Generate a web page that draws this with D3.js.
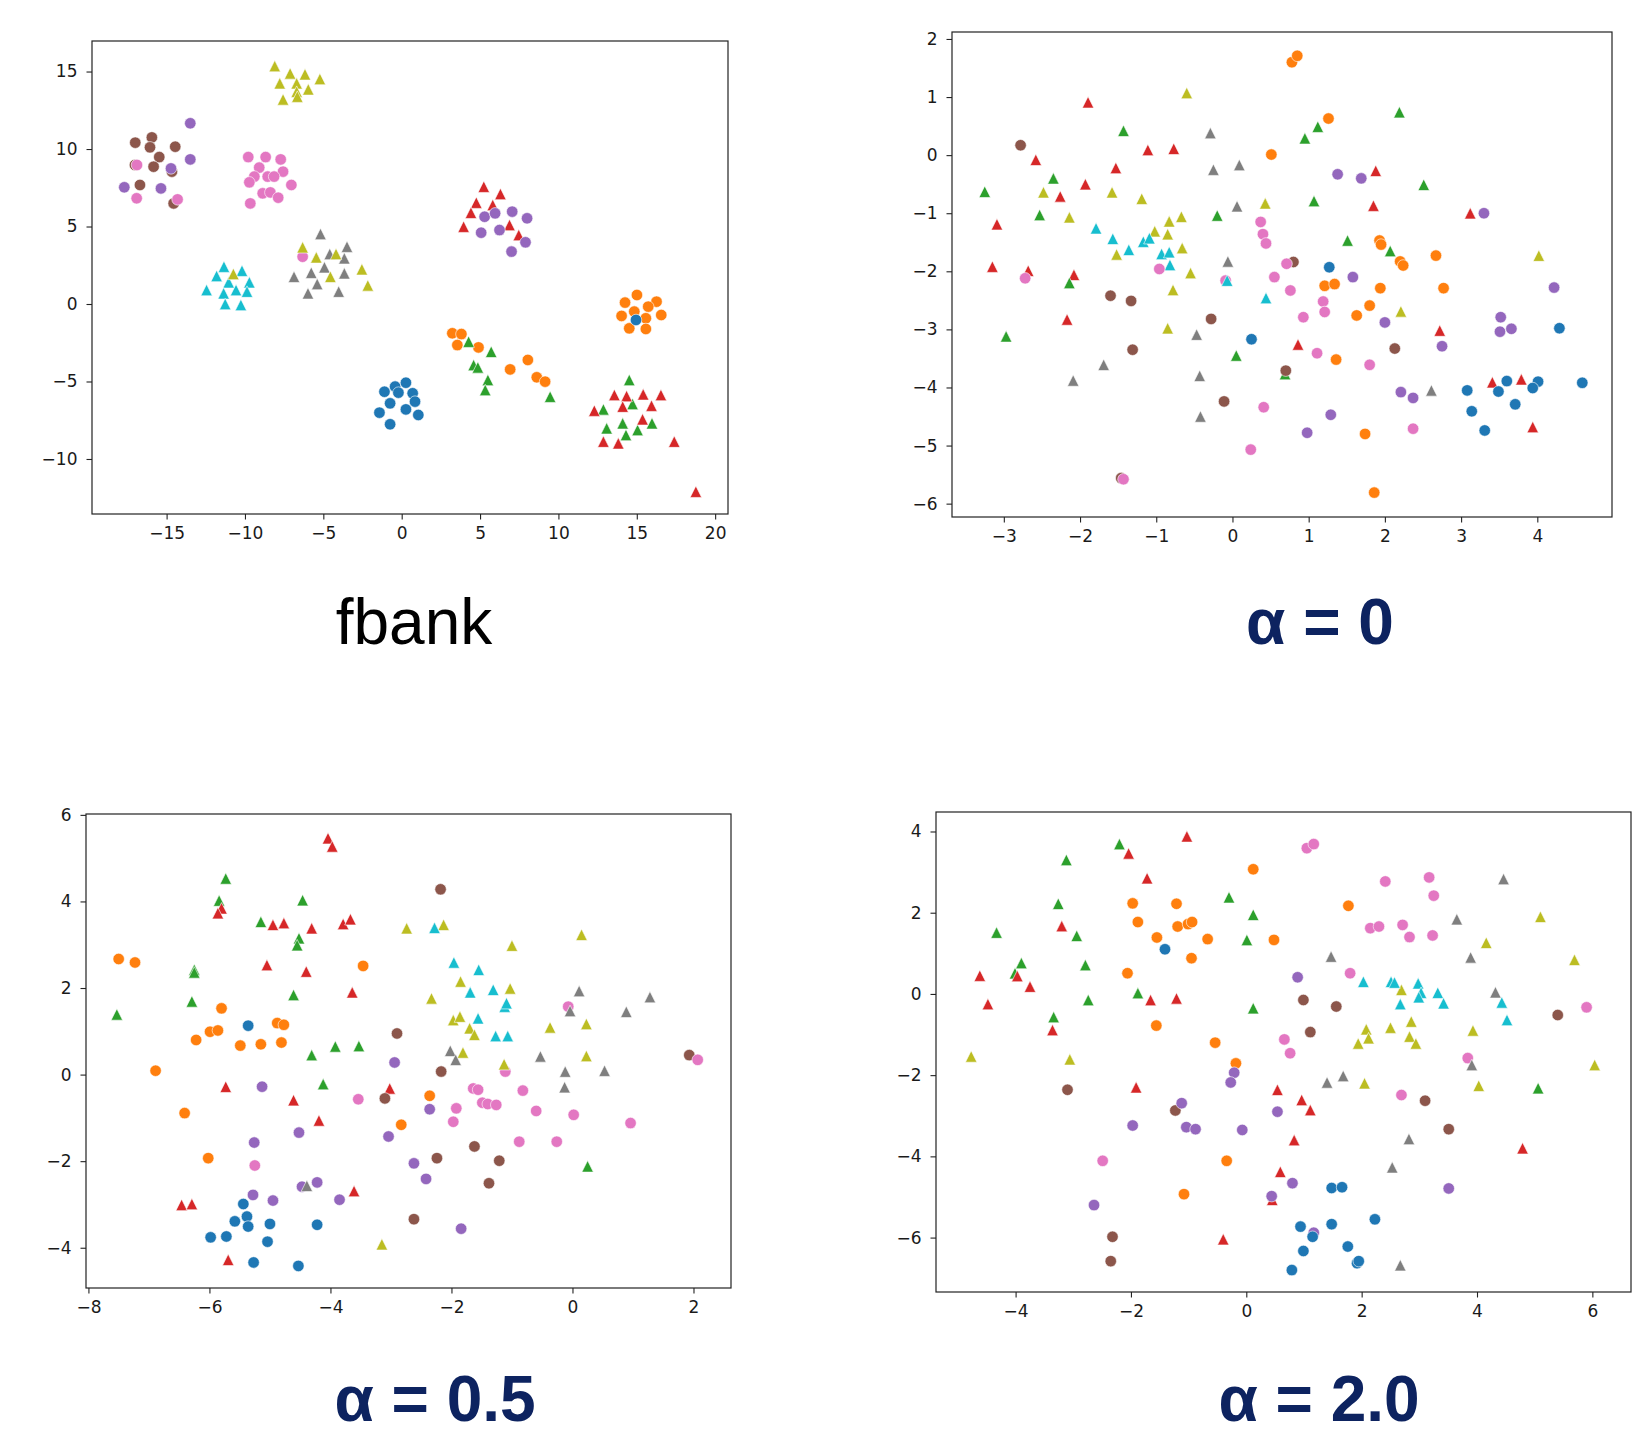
<!DOCTYPE html>
<html>
<head>
<meta charset="utf-8">
<script src="https://cdn.jsdelivr.net/npm/d3@7"></script>
<style>
  body { margin: 0; background: #fff; }
  svg { display: block; }
</style>
</head>
<body>
<svg id="chart"></svg>
<script>
// tab10 colours, one per speaker class; circles for some classes, triangles for the rest
const classColors = ['#1f77b4', '#ff7f0e', '#2ca02c', '#d62728', '#9467bd',
                     '#8c564b', '#e377c2', '#7f7f7f', '#bcbd22', '#17becf'];
const classShapes = ['circle', 'circle', 'triangle', 'triangle', 'circle',
                     'circle', 'circle', 'triangle', 'triangle', 'triangle'];

// [x, y, class]
const fbankPoints = [
  [-17.0,10.41,5],[-15.94,10.75,5],[-16.06,10.11,5],[-15.47,9.48,5],[-15.83,8.86,5],[-14.45,10.15,5],
  [-14.66,8.54,5],[-14.55,6.49,5],[-16.7,7.68,5],[-17.02,8.97,5],
  [-13.49,11.66,4],[-13.49,9.33,4],[-14.72,8.75,4],[-17.7,7.53,4],[-15.36,7.46,4],
  [-16.89,8.97,6],[-16.91,6.82,6],[-14.3,6.75,6],
  [-9.79,9.48,6],[-8.68,9.48,6],[-9.09,8.8,6],[-9.4,8.22,6],[-9.72,7.85,6],[-8.55,8.22,6],[-8.87,7.14,6],
  [-8.38,7.2,6],[-9.66,6.49,6],[-7.88,6.86,6],[-7.72,9.33,6],[-7.57,8.54,6],[-8.14,8.22,6],[-7.04,7.68,6],
  [-8.1,15.35,8],[-7.12,14.88,8],[-6.17,14.82,8],[-5.22,14.52,8],[-7.78,14.24,8],[-6.7,14.24,8],
  [-5.96,13.85,8],[-6.7,13.7,8],[-7.57,13.2,8],[-6.66,13.38,8],
  [-11.34,2.41,9],[-11.81,1.81,9],[-10.19,2.15,9],[-11.04,1.4,9],[-9.72,1.4,9],[-12.45,0.9,9],
  [-11.36,0.69,9],[-10.57,0.9,9],[-9.87,0.8,9],[-11.26,0.0,9],[-10.26,-0.06,9],
  [-10.74,1.94,8],
  [-5.18,4.52,7],[-3.49,3.7,7],[-4.59,3.23,7],[-3.66,2.95,7],[-4.93,2.37,7],[-5.77,2.02,7],[-6.87,1.76,7],
  [-3.66,1.98,7],[-5.39,1.29,7],[-5.98,0.69,7],[-4.02,0.8,7],
  [-6.32,3.05,6],
  [-6.32,3.66,8],[-5.45,3.01,8],[-4.19,3.23,8],[-4.55,1.76,8],[-2.54,2.24,8],[-2.16,1.2,8],
  [5.24,7.57,3],[6.3,7.1,3],[4.76,6.54,3],[5.81,6.39,3],[4.42,5.89,3],[3.95,4.99,3],[6.88,5.1,3],[7.47,4.45,3],
  [5.29,5.63,4],[5.96,5.85,4],[5.07,4.6,4],[6.24,4.77,4],[7.05,5.96,4],[8.0,5.53,4],[7.9,3.98,4],[7.01,3.38,4],
  [3.23,-1.89,1],[3.81,-1.94,1],[3.55,-2.65,1],[4.9,-2.8,1],[6.92,-4.22,1],[8.05,-3.61,1],[8.62,-4.73,1],[9.15,-5.01,1],
  [4.27,-2.43,2],[5.71,-3.08,2],[4.59,-3.94,2],[4.86,-4.09,2],[5.5,-4.9,2],[5.33,-5.55,2],[9.47,-5.98,2],
  [-1.1,-5.66,0],[-0.42,-5.33,0],[0.27,-5.08,0],[-0.21,-5.72,0],[0.7,-5.76,0],[-0.74,-6.41,0],[0.85,-6.3,0],
  [0.27,-6.8,0],[-1.42,-7.01,0],[1.06,-7.16,0],[-0.74,-7.76,0],
  [15.01,0.58,1],[14.25,0.09,1],[16.26,0.15,1],[14.84,-0.49,1],[15.73,-0.17,1],[14.03,-0.77,1],[16.56,-0.71,1],
  [15.58,-0.92,1],[14.52,-1.57,1],[15.58,-1.61,1],
  [14.95,-1.03,0],
  [14.52,-4.9,2],[14.73,-6.45,2],[12.87,-6.8,2],[14.1,-7.7,2],[15.97,-7.7,2],[13.08,-8.02,2],[14.31,-8.45,2],[15.05,-8.13,2],
  [13.57,-5.87,3],[14.35,-5.94,3],[15.41,-5.83,3],[16.54,-5.87,3],[14.1,-6.62,3],[15.94,-6.56,3],[12.29,-6.88,3],
  [15.37,-7.44,3],[12.87,-8.88,3],[13.82,-8.99,3],[17.39,-8.88,3],[18.77,-12.11,3]
];

const alpha0Points = [
  [-1.895,0.91,3],[-1.11,0.09,3],[-0.77,0.11,3],[-2.58,-0.08,3],[-1.53,-0.22,3],[-1.93,-0.5,3],[-2.26,-0.71,3],
  [-3.09,-1.19,3],[-3.15,-1.92,3],[-2.68,-1.99,3],[-2.08,-2.06,3],[-2.17,-2.83,3],[1.88,-0.27,3],[1.85,-0.87,3],
  [0.86,-3.26,3],[3.12,-1.0,3],[2.72,-3.02,3],[3.41,-3.91,3],[3.79,-3.86,3],[3.94,-4.68,3],
  [-1.43,0.42,2],[-2.35,-0.4,2],[-3.25,-0.63,2],[-2.53,-1.03,2],[-2.14,-2.2,2],[-2.97,-3.12,2],[2.19,0.74,2],
  [1.12,0.49,2],[0.95,0.29,2],[1.07,-0.79,2],[-0.2,-1.04,2],[1.51,-1.47,2],[2.07,-1.65,2],[0.05,-3.45,2],
  [0.69,-3.77,2],[2.51,-0.51,2],
  [-2.78,0.17,5],[-1.6,-2.42,5],[-1.33,-2.51,5],[-1.31,-3.35,5],[-1.46,-5.56,5],[0.8,-1.84,5],[-0.28,-2.82,5],
  [2.13,-3.33,5],[0.7,-3.71,5],[-0.11,-4.24,5],
  [-2.48,-0.64,8],[-1.58,-0.64,8],[-1.19,-0.75,8],[-2.14,-1.07,8],[-1.02,-1.31,8],[-0.83,-1.14,8],[-0.85,-1.36,8],
  [-1.52,-1.71,8],[-0.78,-2.32,8],[-0.85,-2.98,8],[-0.6,1.07,8],[0.43,-0.83,8],[-0.67,-1.06,8],[-0.66,-1.6,8],
  [-0.55,-2.03,8],[2.21,-2.69,8],[4.02,-1.73,8],
  [-1.79,-1.26,9],[-1.57,-1.44,9],[-1.17,-1.49,9],[-1.09,-1.43,9],[-1.36,-1.63,9],[-0.93,-1.7,9],[-0.83,-1.67,9],
  [-0.82,-1.89,9],[0.44,-2.46,9],
  [-0.96,-1.96,6],[-2.72,-2.12,6],[-1.43,-5.58,6],[0.37,-1.15,6],[0.4,-1.36,6],[0.44,-1.52,6],[0.71,-1.87,6],
  [-0.09,-2.16,6],[0.55,-2.1,6],[0.76,-2.33,6],[1.19,-2.52,6],[1.21,-2.7,6],[0.93,-2.79,6],[1.11,-3.41,6],
  [1.8,-3.61,6],[0.41,-4.34,6],[0.24,-5.07,6],[2.37,-4.71,6],
  [-0.07,-2.16,9],
  [-1.69,-3.61,7],[-2.09,-3.88,7],[-0.29,0.38,7],[-0.25,-0.25,7],[0.09,-0.17,7],[0.06,-0.88,7],[-0.06,-1.83,7],
  [-0.47,-3.09,7],[-0.43,-3.8,7],[-0.42,-4.5,7],[2.61,-4.05,7],
  [0.78,1.6,1],[0.85,1.71,1],[1.26,0.63,1],[0.51,0.01,1],[1.93,-1.47,1],[1.95,-1.54,1],[2.2,-1.83,1],[2.24,-1.9,1],
  [1.21,-2.25,1],[1.34,-2.22,1],[1.94,-2.29,1],[1.8,-2.59,1],[1.63,-2.76,1],[1.36,-3.52,1],[1.74,-4.8,1],
  [1.86,-5.81,1],[2.67,-1.73,1],[2.77,-2.29,1],
  [1.38,-0.33,4],[1.69,-0.4,4],[1.58,-2.1,4],[2.0,-2.88,4],[2.21,-4.08,4],[1.29,-4.47,4],[0.98,-4.78,4],
  [3.3,-1.0,4],[4.22,-2.28,4],[3.52,-2.79,4],[3.51,-3.04,4],[3.66,-2.99,4],[2.75,-3.29,4],[2.37,-4.18,4],
  [1.27,-1.93,0],[0.25,-3.17,0],[4.29,-2.98,0],[3.6,-3.89,0],[4.01,-3.9,0],[3.94,-4.01,0],[4.59,-3.92,0],
  [3.08,-4.05,0],[3.49,-4.07,0],[3.14,-4.41,0],[3.71,-4.29,0],[3.31,-4.74,0]
];

const alpha05Points = [
  [-5.73,4.53,2],[-5.84,4.02,2],[-5.15,3.53,2],[-6.25,2.42,2],[-6.25,2.36,2],[-6.29,1.69,2],[-7.53,1.39,2],
  [-4.46,4.03,2],[-4.52,3.15,2],[-4.55,2.99,2],[-4.61,1.84,2],[-3.92,0.65,2],[-3.53,0.66,2],[-4.31,0.45,2],
  [-4.12,-0.22,2],[0.25,-2.12,2],
  [-5.8,3.84,3],[-5.86,3.73,3],[-4.95,3.46,3],[-5.05,2.53,3],[-5.73,-0.28,3],[-6.46,-3.01,3],[-6.29,-2.99,3],
  [-5.69,-4.28,3],[-4.04,5.46,3],[-3.97,5.27,3],[-4.77,3.5,3],[-4.31,3.38,3],[-3.79,3.48,3],[-3.67,3.59,3],
  [-4.4,2.38,3],[-3.64,1.9,3],[-3.02,-0.32,3],[-4.61,-0.59,3],[-4.19,-1.06,3],[-3.61,-2.69,3],
  [-7.5,2.67,1],[-7.23,2.59,1],[-5.8,1.53,1],[-5.99,0.99,1],[-5.86,1.02,1],[-6.22,0.8,1],[-5.49,0.67,1],
  [-5.15,0.7,1],[-6.89,0.09,1],[-6.41,-0.89,1],[-6.02,-1.93,1],[-4.88,1.19,1],[-4.77,1.15,1],[-4.81,0.74,1],
  [-3.46,2.51,1],[-2.36,-0.49,1],[-2.83,-1.16,1],
  [-5.36,1.13,0],[-5.44,-2.99,0],[-5.38,-3.28,0],[-5.58,-3.39,0],[-5.36,-3.51,0],[-5.0,-3.45,0],[-5.98,-3.76,0],
  [-5.72,-3.74,0],[-5.04,-3.86,0],[-5.27,-4.34,0],[-4.22,-3.47,0],[-4.53,-4.42,0],
  [-5.13,-0.28,4],[-5.26,-1.57,4],[-5.28,-2.78,4],[-4.95,-2.91,4],[-2.94,0.28,4],[-2.36,-0.8,4],[-4.52,-1.34,4],
  [-3.04,-1.43,4],[-2.62,-2.05,4],[-2.42,-2.41,4],[-4.47,-2.59,4],[-4.22,-2.49,4],[-3.85,-2.89,4],[-1.84,-3.56,4],
  [-5.25,-2.1,6],[-1.11,0.07,6],[-3.54,-0.57,6],[-1.64,-0.32,6],[-1.56,-0.35,6],[-1.92,-0.78,6],[-1.49,-0.65,6],
  [-1.4,-0.68,6],[-1.26,-0.7,6],[-1.97,-1.09,6],[-0.07,1.57,6],[-0.82,-0.37,6],[-0.6,-0.84,6],
  [0.02,-0.93,6],[0.96,-1.12,6],[-0.88,-1.55,6],[-0.26,-1.55,6],
  [-2.18,4.28,5],[-2.9,0.95,5],[-2.17,0.07,5],[-3.1,-0.55,5],[-1.62,-1.66,5],[-2.24,-1.93,5],[-1.21,-1.99,5],
  [-1.38,-2.51,5],[-2.62,-3.34,5],[1.93,0.45,5],
  [2.07,0.34,6],
  [-2.74,3.38,8],[-2.13,3.46,8],[-1.85,2.15,8],[-2.33,1.76,8],[-1.97,1.26,8],[-1.86,1.34,8],[-1.7,1.07,8],
  [-1.62,0.92,8],[-1.81,0.51,8],[-1.13,0.24,8],[-3.15,-3.92,8],[0.15,3.23,8],[-1.0,2.98,8],[-1.03,1.99,8],
  [-0.37,1.09,8],[0.23,1.17,8],[0.23,0.43,8],
  [-2.28,3.39,9],[-1.96,2.59,9],[-1.55,2.42,9],[-1.69,1.9,9],[-1.31,1.96,9],[-1.12,1.57,9],[-1.09,1.65,9],
  [-1.56,1.3,9],[-1.27,0.89,9],[-1.07,0.89,9],
  [-2.02,0.55,7],[-1.93,0.34,7],[-4.39,-2.57,7],[0.11,1.93,7],[1.28,1.79,7],[-0.04,1.47,7],[0.89,1.45,7],
  [-0.53,0.42,7],[-0.12,0.07,7],[0.53,0.09,7],[-0.13,-0.29,7]
];

const alpha2Points = [
  [-2.2,3.69,2],[-3.12,3.3,2],[-3.26,2.22,2],[-4.33,1.51,2],[-2.94,1.43,2],[-3.9,0.76,2],[-4.01,0.51,2],
  [-2.79,0.71,2],[-1.88,0.02,2],[-2.74,-0.15,2],[-3.34,-0.57,2],[-0.3,2.38,2],[0.12,1.95,2],[0.01,1.33,2],
  [0.12,-0.35,2],[5.06,-2.32,2],
  [-2.04,3.46,3],[-3.2,1.67,3],[-3.97,0.44,3],[-4.62,0.45,3],[-3.75,0.18,3],[-4.48,-0.25,3],[-3.36,-0.89,3],
  [-1.91,-2.3,3],[-1.03,3.88,3],[-1.72,2.85,3],[-1.66,-0.15,3],[-1.21,-0.11,3],[0.54,-2.36,3],[0.96,-2.61,3],
  [1.11,-2.86,3],[0.83,-3.6,3],[0.59,-4.38,3],[0.45,-5.07,3],[-0.4,-6.04,3],[4.79,-3.8,3],
  [-1.97,2.23,1],[-1.88,1.77,1],[-2.06,0.51,1],[0.12,3.07,1],[-1.21,2.22,1],[-1.19,1.66,1],[-1.01,1.72,1],
  [-0.94,1.77,1],[-1.55,1.39,1],[-0.67,1.35,1],[0.48,1.33,1],[-0.95,0.88,1],[1.77,2.17,1],[-1.56,-0.78,1],
  [-0.54,-1.2,1],[-0.18,-1.71,1],[-0.34,-4.11,1],[-1.08,-4.93,1],
  [-4.77,-1.54,8],[-3.06,-1.61,8],[2.08,-0.87,8],[2.12,-1.09,8],[1.94,-1.22,8],[2.05,-2.2,8],[5.1,1.9,8],
  [4.16,1.26,8],[5.69,0.84,8],[2.69,0.1,8],[2.5,-0.83,8],[2.86,-0.68,8],[2.83,-1.05,8],[2.94,-1.22,8],
  [3.93,-0.9,8],[6.04,-1.75,8],[4.03,-2.26,8],
  [-3.1,-2.36,5],[-2.32,-5.98,5],[-2.35,-6.58,5],[0.99,-0.15,5],[1.56,-0.31,5],[1.11,-0.94,5],[-1.23,-2.87,5],
  [5.4,-0.52,5],[3.1,-2.63,5],[3.51,-3.33,5],
  [-1.97,-3.24,4],[-2.64,-5.2,4],[0.89,0.41,4],[-0.21,-1.94,4],[-0.27,-2.18,4],[-1.12,-2.69,4],[0.54,-2.9,4],
  [-1.04,-3.28,4],[-0.88,-3.33,4],[-0.07,-3.35,4],[0.8,-4.66,4],[0.44,-4.98,4],[1.17,-5.88,4],[3.51,-4.79,4],
  [-2.49,-4.11,6],[1.05,3.59,6],[1.17,3.69,6],[2.41,2.77,6],[2.15,1.62,6],[2.3,1.66,6],[1.8,0.51,6],
  [0.66,-1.12,6],[0.76,-1.46,6],[3.17,2.87,6],[3.25,2.42,6],[2.71,1.7,6],[2.83,1.4,6],[3.23,1.44,6],
  [5.9,-0.33,6],[3.84,-1.58,6],[2.69,-2.49,6],
  [-1.41,1.1,0],[1.48,-4.78,0],[1.66,-4.76,0],[0.94,-5.73,0],[1.15,-5.98,0],[1.48,-5.67,0],[2.23,-5.55,0],
  [1.76,-6.22,0],[0.99,-6.33,0],[1.92,-6.63,0],[1.95,-6.58,0],[0.79,-6.8,0],
  [1.47,0.92,7],[1.4,-2.18,7],[1.68,-2.02,7],[4.46,2.83,7],[3.65,1.84,7],[3.89,0.9,7],[4.32,0.04,7],
  [3.91,-1.75,7],[2.82,-3.57,7],[2.53,-4.27,7],[2.67,-6.68,7],
  [2.03,0.3,9],[2.51,0.3,9],[2.57,0.28,9],[2.98,0.26,9],[3.03,0.03,9],[2.99,-0.08,9],[3.32,0.03,9],
  [3.42,-0.23,9],[2.67,-0.25,9],[4.43,-0.21,9],[4.52,-0.64,9]
];

const panelTitles = ['fbank', 'α = 0', 'α = 0.5', 'α = 2.0'];
const fbankXTicks = [-15, -10, -5, 0, 5, 10, 15, 20];
const fbankYTicks = [-10, -5, 0, 5, 10, 15];
const alpha0XTicks = [-3, -2, -1, 0, 1, 2, 3, 4];
const alpha0YTicks = [-6, -5, -4, -3, -2, -1, 0, 1, 2];
const alpha05XTicks = [-8, -6, -4, -2, 0, 2];
const alpha05YTicks = [-4, -2, 0, 2, 4, 6];
const alpha2XTicks = [-4, -2, 0, 2, 4, 6];
const alpha2YTicks = [-6, -4, -2, 0, 2, 4];

// layout: axes box in pixels, axis limits, title placement
const panels = [
  { points: fbankPoints, xTicks: fbankXTicks, yTicks: fbankYTicks, xDomain: [-19.76, 20.82], yDomain: [-13.55, 16.97],
    box: { left: 92, right: 728, top: 41, bottom: 514 }, title: panelTitles[0], bold: false, tx: 414, ty: 644 },
  { points: alpha0Points, xTicks: alpha0XTicks, yTicks: alpha0YTicks, xDomain: [-3.68, 4.98], yDomain: [-6.23, 2.12],
    box: { left: 952, right: 1612, top: 32, bottom: 517 }, title: panelTitles[1], bold: true, tx: 1320, ty: 644 },
  { points: alpha05Points, xTicks: alpha05XTicks, yTicks: alpha05YTicks, xDomain: [-8.04, 2.62], yDomain: [-4.93, 6.02],
    box: { left: 86, right: 731, top: 814, bottom: 1288 }, title: panelTitles[2], bold: true, tx: 435, ty: 1421 },
  { points: alpha2Points, xTicks: alpha2XTicks, yTicks: alpha2YTicks, xDomain: [-5.38, 6.67], yDomain: [-7.34, 4.48],
    box: { left: 936, right: 1631, top: 812, bottom: 1292 }, title: panelTitles[3], bold: true, tx: 1319, ty: 1421 }
];

const W = 1639, H = 1436;
const markerSize = 11.5;
const tickFont = "'DejaVu Sans', sans-serif";
const fmt = d3.format('d');

const svg = d3.select('#chart').attr('width', W).attr('height', H);
svg.append('rect').attr('width', W).attr('height', H).attr('fill', '#fff');

function markerPath(shape) {
  const s = markerSize / 2;
  if (shape === 'circle') {
    const p = d3.path();
    p.arc(0, 0, s, 0, 2 * Math.PI);
    return p.toString();
  }
  return `M0,${-s}L${s},${s}L${-s},${s}Z`;
}

panels.forEach(p => {
  const x = d3.scaleLinear().domain(p.xDomain).range([p.box.left, p.box.right]);
  const y = d3.scaleLinear().domain(p.yDomain).range([p.box.bottom, p.box.top]);
  const g = svg.append('g');

  g.append('g').selectAll('path')
    .data(p.points)
    .join('path')
      .attr('transform', d => `translate(${x(d[0])},${y(d[1])})`)
      .attr('d', d => markerPath(classShapes[d[2]]))
      .attr('fill', d => classColors[d[2]])
      .attr('stroke', '#fff')
      .attr('stroke-width', 0.6);

  const xAxis = g.append('g')
    .attr('transform', `translate(0,${p.box.bottom})`)
    .call(d3.axisBottom(x).tickValues(p.xTicks).tickFormat(fmt).tickSize(5.5).tickPadding(7));
  const yAxis = g.append('g')
    .attr('transform', `translate(${p.box.left},0)`)
    .call(d3.axisLeft(y).tickValues(p.yTicks).tickFormat(fmt).tickSize(5.5).tickPadding(9));

  [xAxis, yAxis].forEach(a => {
    a.select('.domain').remove();
    a.selectAll('.tick line').attr('stroke', '#222').attr('stroke-width', 1.1);
    a.selectAll('.tick text').attr('fill', '#1a1a1a').attr('font-size', 17).attr('font-family', tickFont);
  });

  g.append('rect')
    .attr('x', p.box.left).attr('y', p.box.top)
    .attr('width', p.box.right - p.box.left).attr('height', p.box.bottom - p.box.top)
    .attr('fill', 'none').attr('stroke', '#222').attr('stroke-width', 1.2);

  svg.append('text')
    .attr('x', p.tx).attr('y', p.ty)
    .attr('text-anchor', 'middle')
    .attr('font-family', "'Liberation Sans', Arial, sans-serif")
    .attr('font-size', 64)
    .attr('font-weight', p.bold ? 700 : 400)
    .attr('fill', p.bold ? '#0d2360' : '#000')
    .text(p.title);
});
</script>
</body>
</html>
